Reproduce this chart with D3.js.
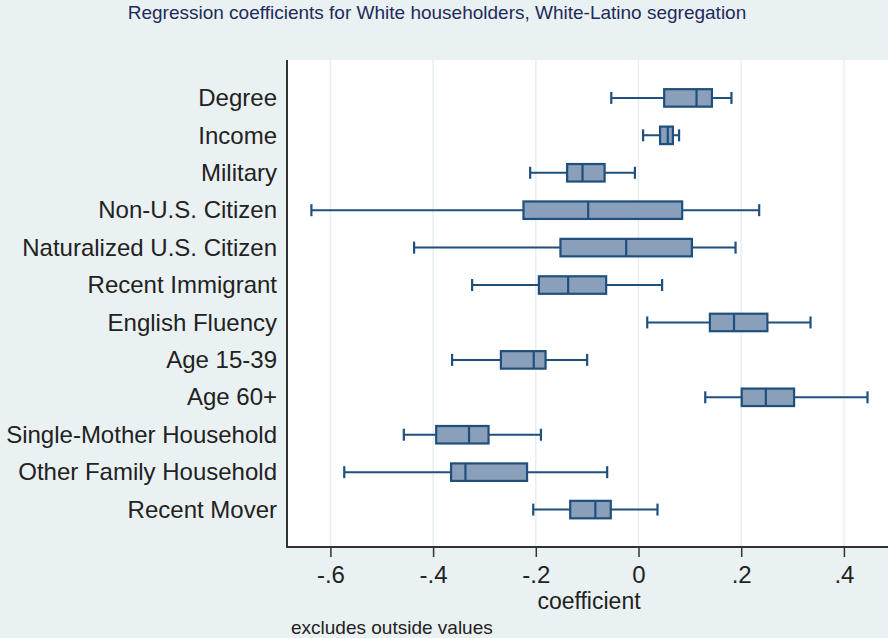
<!DOCTYPE html>
<html>
<head>
<meta charset="utf-8">
<script src="https://cdn.jsdelivr.net/npm/d3@7"></script>
<style>
  html, body { margin: 0; padding: 0; background: #eaf1f2; }
  svg { display: block; font-family: "Liberation Sans", Arial, Helvetica, sans-serif; }
</style>
</head>
<body>
<svg id="chart" width="888" height="638"></svg>
<script>
// Coefficient distributions by variable (box plot, outside values excluded)
const categories = [
  "Degree", "Income", "Military", "Non-U.S. Citizen", "Naturalized U.S. Citizen",
  "Recent Immigrant", "English Fluency", "Age 15-39", "Age 60+",
  "Single-Mother Household", "Other Family Household", "Recent Mover"
];
const whiskerLow  = [-0.053, 0.009, -0.211, -0.637, -0.437, -0.324, 0.017, -0.363, 0.130, -0.457, -0.573, -0.205];
const q1          = [ 0.050, 0.042, -0.139, -0.224, -0.152, -0.194, 0.139, -0.268, 0.201, -0.394, -0.365, -0.133];
const median      = [ 0.113, 0.057, -0.109, -0.098, -0.024, -0.137, 0.186, -0.204, 0.248, -0.330, -0.337, -0.084];
const q3          = [ 0.143, 0.067, -0.066,  0.085,  0.104, -0.063, 0.251, -0.181, 0.303, -0.292, -0.217, -0.054];
const whiskerHigh = [ 0.181, 0.079, -0.007,  0.235,  0.189,  0.046, 0.335, -0.100, 0.446, -0.190, -0.061,  0.037];
const xTicks = [-0.6, -0.4, -0.2, 0, 0.2, 0.4];
const xTickLabels = ["-.6", "-.4", "-.2", "0", ".2", ".4"];

const rows = categories.map((c, i) => ({
  name: c, lo: whiskerLow[i], q1: q1[i], med: median[i], q3: q3[i], hi: whiskerHigh[i]
}));

const plot = { left: 287, right: 888, top: 60, bottom: 547 };
const textColor = "#222";
const font = "Liberation Sans, Arial, sans-serif";

const svg = d3.select("#chart");

const x = d3.scaleLinear()
  .domain([-0.6, 0.4])
  .range([330.4, 843.9]);

const y = d3.scalePoint()
  .domain(categories)
  .range([plot.top + 0.5, plot.bottom])
  .padding(1);

const boxH = 17.5, capH = 12;
const stroke = "#1f4f7c", fill = "#8a9fb9";

// plot region
svg.append("rect")
  .attr("x", plot.left).attr("y", plot.top)
  .attr("width", plot.right - plot.left).attr("height", plot.bottom - plot.top)
  .attr("fill", "#ffffff");

// vertical grid lines
svg.append("g").selectAll("line").data(xTicks).join("line")
  .attr("x1", d => x(d)).attr("x2", d => x(d))
  .attr("y1", plot.top).attr("y2", plot.bottom)
  .attr("stroke", "#e8eff1").attr("stroke-width", 1.5);

// x axis
const xAxis = d3.axisBottom(x)
  .tickValues(xTicks)
  .tickFormat((d, i) => xTickLabels[i])
  .tickSize(10)
  .tickPadding(9)
  .tickSizeOuter(0);
const gx = svg.append("g")
  .attr("transform", `translate(0,${plot.bottom})`)
  .call(xAxis);
gx.select(".domain").remove();
gx.selectAll(".tick line").attr("stroke", "#333").attr("stroke-width", 1.5);
gx.selectAll(".tick text")
  .attr("font-size", 24).attr("fill", textColor).attr("font-family", font);

// axis lines
svg.append("line")
  .attr("x1", plot.left).attr("x2", plot.right)
  .attr("y1", plot.bottom).attr("y2", plot.bottom)
  .attr("stroke", "#333").attr("stroke-width", 2);
svg.append("line")
  .attr("x1", plot.left).attr("x2", plot.left)
  .attr("y1", plot.top).attr("y2", plot.bottom + 1)
  .attr("stroke", "#333").attr("stroke-width", 2);

// category labels
const yAxis = d3.axisLeft(y).tickSize(0).tickPadding(10);
const gy = svg.append("g")
  .attr("transform", `translate(${plot.left},0)`)
  .call(yAxis);
gy.select(".domain").remove();
gy.selectAll(".tick text")
  .attr("font-size", 24).attr("fill", textColor).attr("font-family", font);

// boxes
const g = svg.append("g").selectAll("g").data(rows).join("g")
  .attr("transform", d => `translate(0,${y(d.name)})`);

g.append("line") // whisker
  .attr("x1", d => x(d.lo)).attr("x2", d => x(d.hi))
  .attr("y1", 0).attr("y2", 0)
  .attr("stroke", stroke).attr("stroke-width", 2);
g.append("line")
  .attr("x1", d => x(d.lo)).attr("x2", d => x(d.lo))
  .attr("y1", -capH / 2).attr("y2", capH / 2)
  .attr("stroke", stroke).attr("stroke-width", 2.2);
g.append("line")
  .attr("x1", d => x(d.hi)).attr("x2", d => x(d.hi))
  .attr("y1", -capH / 2).attr("y2", capH / 2)
  .attr("stroke", stroke).attr("stroke-width", 2.2);
g.append("rect")
  .attr("x", d => x(d.q1)).attr("width", d => x(d.q3) - x(d.q1))
  .attr("y", -boxH / 2).attr("height", boxH)
  .attr("fill", fill).attr("stroke", stroke).attr("stroke-width", 2.2);
g.append("line")
  .attr("x1", d => x(d.med)).attr("x2", d => x(d.med))
  .attr("y1", -boxH / 2).attr("y2", boxH / 2)
  .attr("stroke", stroke).attr("stroke-width", 2.2);

// titles
svg.append("text")
  .attr("x", 437).attr("y", 19)
  .attr("text-anchor", "middle")
  .attr("font-size", 19).attr("fill", "#1e2b5c")
  .text("Regression coefficients for White householders, White-Latino segregation");

svg.append("text")
  .attr("x", 589).attr("y", 609)
  .attr("text-anchor", "middle")
  .attr("font-size", 23).attr("fill", textColor)
  .text("coefficient");

svg.append("text")
  .attr("x", 291).attr("y", 634)
  .attr("font-size", 19).attr("fill", textColor)
  .text("excludes outside values");
</script>
</body>
</html>
